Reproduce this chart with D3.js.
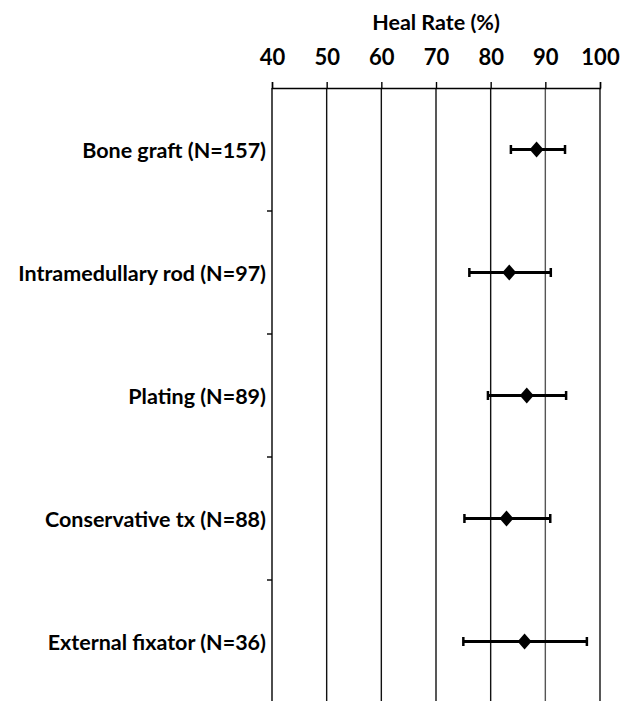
<!DOCTYPE html>
<html>
<head>
<meta charset="utf-8">
<script src="https://cdn.jsdelivr.net/npm/d3@7"></script>
<style>
  html, body { margin: 0; padding: 0; background: #fff; }
  svg text { font-family: Lato, "Open Sans", sans-serif; font-weight: bold; fill: #000; }
</style>
</head>
<body>
<svg id="chart" width="634" height="701"></svg>
<script>
// Treatment groups, top to bottom
const categories = [
  "Bone graft (N=157)",
  "Intramedullary rod (N=97)",
  "Plating (N=89)",
  "Conservative tx (N=88)",
  "External fixator (N=36)"
];
// Heal rate point estimates (%)
const healRate = [88.4, 83.4, 86.6, 82.9, 86.2];
// Confidence interval bounds (%)
const ciLow  = [83.7, 76.1, 79.5, 75.2, 75.0];
const ciHigh = [93.6, 91.0, 93.8, 90.9, 97.6];
// Axis ticks
const xTicks = [40, 50, 60, 70, 80, 90, 100];
const axisTitle = "Heal Rate (%)";

const svg = d3.select("#chart");
const margin = { top: 88, left: 272, right: 34, bottom: 0 };
const W = 634, H = 701;

const x = d3.scaleLinear().domain([40, 100]).range([margin.left, W - margin.right]);
const y = d3.scaleBand().domain(categories).range([margin.top, H + 2]);

// Vertical grid lines
svg.append("g").selectAll("line").data(xTicks.slice(1)).join("line")
  .attr("x1", d => x(d)).attr("x2", d => x(d))
  .attr("y1", margin.top).attr("y2", H)
  .attr("stroke", d => d === 90 ? "#555" : "#111")
  .attr("stroke-width", 1.4);

// Top axis
const xAxis = d3.axisTop(x).tickValues(xTicks).tickSize(6).tickPadding(17).tickFormat(d3.format("d"));
const gx = svg.append("g").attr("transform", `translate(0,${margin.top})`).call(xAxis);
gx.select(".domain").attr("stroke", "#000").attr("stroke-width", 1.4);
gx.selectAll(".tick line").attr("stroke", "#000").attr("stroke-width", 1.4);
gx.selectAll(".tick text").style("font-size", "22px").style("font-weight", "bold")
  .style("font-family", "Lato, sans-serif").attr("fill", "#000");

// Left axis: category labels and band-boundary tick marks
const gy = svg.append("g").attr("transform", `translate(${margin.left},0)`);
gy.append("line").attr("x1", 0).attr("x2", 0).attr("y1", margin.top).attr("y2", H)
  .attr("stroke", "#000").attr("stroke-width", 1.4);
gy.selectAll("line.sep").data(categories.slice(1)).join("line").attr("class", "sep")
  .attr("x1", -5).attr("x2", 0)
  .attr("y1", d => y(d)).attr("y2", d => y(d))
  .attr("stroke", "#000").attr("stroke-width", 1.4);
gy.selectAll("text").data(categories).join("text")
  .attr("x", -6).attr("y", d => y(d) + y.bandwidth() / 2)
  .attr("text-anchor", "end").attr("dominant-baseline", "central")
  .style("font-size", "21.5px")
  .text(d => d);

// Axis title
svg.append("text").attr("x", (x(40) + x(100)) / 2).attr("y", 22)
  .attr("text-anchor", "middle").attr("dominant-baseline", "central")
  .style("font-size", "21.5px").text(axisTitle);

// Error bars and point markers
const rows = categories.map((c, i) => ({ c, v: healRate[i], lo: ciLow[i], hi: ciHigh[i] }));
const marks = svg.append("g");
const cy = d => y(d.c) + y.bandwidth() / 2;
marks.selectAll("line.ci").data(rows).join("line").attr("class", "ci")
  .attr("x1", d => x(d.lo)).attr("x2", d => x(d.hi))
  .attr("y1", cy).attr("y2", cy)
  .attr("stroke", "#000").attr("stroke-width", 3);
marks.selectAll("line.capL").data(rows).join("line").attr("class", "capL")
  .attr("x1", d => x(d.lo)).attr("x2", d => x(d.lo))
  .attr("y1", d => cy(d) - 4.5).attr("y2", d => cy(d) + 4.5)
  .attr("stroke", "#000").attr("stroke-width", 2.5);
marks.selectAll("line.capR").data(rows).join("line").attr("class", "capR")
  .attr("x1", d => x(d.hi)).attr("x2", d => x(d.hi))
  .attr("y1", d => cy(d) - 4.5).attr("y2", d => cy(d) + 4.5)
  .attr("stroke", "#000").attr("stroke-width", 2.5);
marks.selectAll("path.pt").data(rows).join("path").attr("class", "pt")
  .attr("transform", d => `translate(${x(d.v)},${cy(d)})`)
  .attr("d", "M0,-8L7,0L0,8L-7,0Z")
  .attr("fill", "#000");
</script>
</body>
</html>
